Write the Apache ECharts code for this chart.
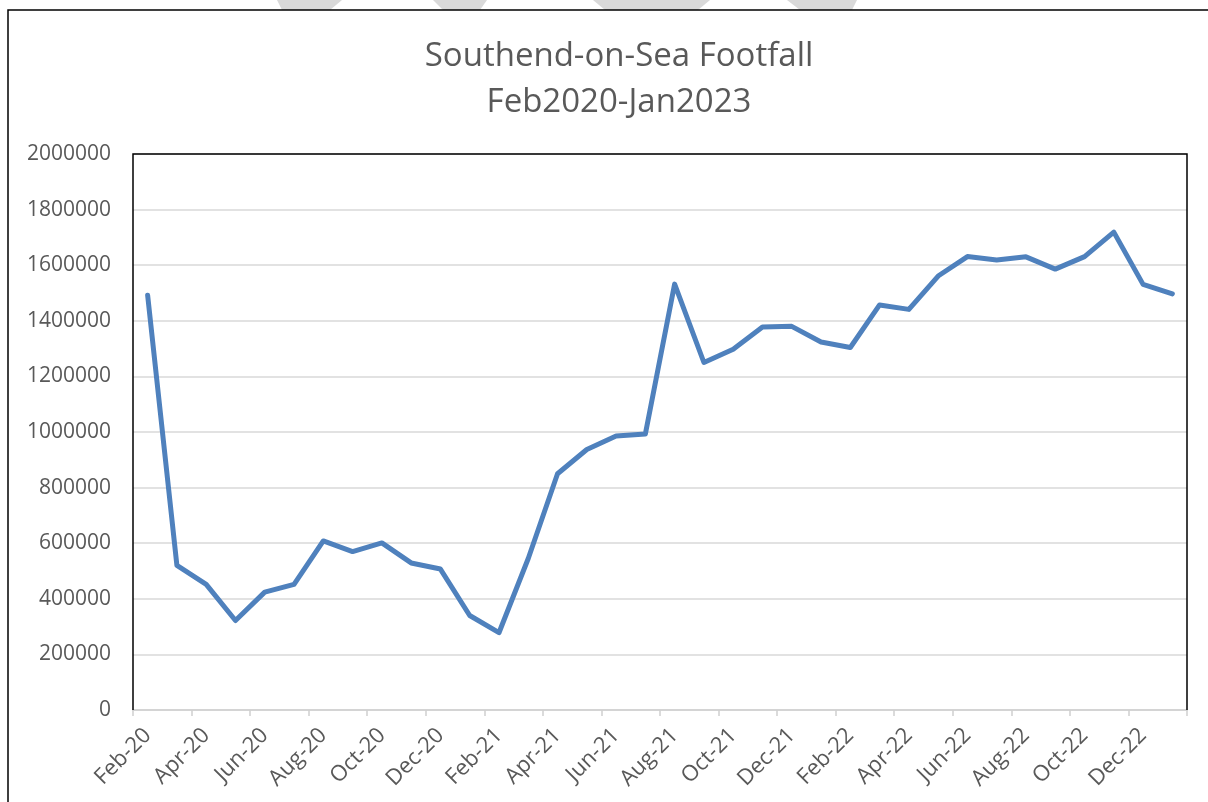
<!DOCTYPE html>
<html>
<head>
<meta charset="utf-8">
<script src="https://cdn.jsdelivr.net/npm/echarts@6/dist/echarts.min.js"></script>
<style>
html,body{margin:0;padding:0;background:#fff;}
#chart{width:1208px;height:802px;}
</style>
</head>
<body>
<div id="chart"></div>
<script>
const titleLines = ['Southend-on-Sea Footfall', 'Feb2020-Jan2023'];
const months = ['Feb-20','Mar-20','Apr-20','May-20','Jun-20','Jul-20','Aug-20','Sep-20','Oct-20','Nov-20','Dec-20','Jan-21',
  'Feb-21','Mar-21','Apr-21','May-21','Jun-21','Jul-21','Aug-21','Sep-21','Oct-21','Nov-21','Dec-21','Jan-22',
  'Feb-22','Mar-22','Apr-22','May-22','Jun-22','Jul-22','Aug-22','Sep-22','Oct-22','Nov-22','Dec-22','Jan-23'];
const footfall = [1492000, 520000, 452000, 322000, 424000, 452000, 608000, 570000, 601000, 529000, 507000, 340000,
  278000, 545000, 850000, 937000, 986000, 993000, 1532000, 1250000, 1298000, 1378000, 1380000, 1324000,
  1304000, 1457000, 1441000, 1561000, 1631000, 1619000, 1630000, 1586000, 1631000, 1719000, 1531000, 1497000];
const yMin = 0, yMax = 2000000, yStep = 200000;

const G = {left: 133, right: 21, top: 154, bottom: 92};
const W = 1208, H = 802;
const chart = echarts.init(document.getElementById('chart'));
const font = 'Open Sans';
const wm = {fill: '#d9d9d9'};
chart.setOption({
  backgroundColor: '#fff',
  animation: false,
  title: {
    text: titleLines.join('\n'),
    left: 614,
    textAlign: 'center',
    top: 29,
    textStyle: {fontFamily: font, fontSize: 33, fontWeight: 'normal', color: '#595959', lineHeight: 46}
  },
  graphic: [
    {type: 'polygon', shape: {points: [[277,0],[342,0],[330,10],[282,10]]}, style: wm, silent: true},
    {type: 'polygon', shape: {points: [[433,0],[487,0],[480,10],[443,10]]}, style: wm, silent: true},
    {type: 'polygon', shape: {points: [[593,0],[710,0],[698,10],[605,10]]}, style: wm, silent: true},
    {type: 'polygon', shape: {points: [[787,0],[857,0],[852,10],[800,10]]}, style: wm, silent: true},
    {type: 'polyline', shape: {points: [[8,900],[8,10],[1300,10]]}, style: {fill: null, stroke: '#000', lineWidth: 1.5}, silent: true},
    {type: 'polyline', z: 100, shape: {points: [[G.left, H - G.bottom],[G.left, G.top],[W - G.right, G.top],[W - G.right, H - G.bottom]]},
      style: {fill: null, stroke: '#000', lineWidth: 1.5}, silent: true}
  ],
  grid: {left: G.left, right: G.right, top: G.top, bottom: G.bottom, show: false},
  xAxis: {
    type: 'category',
    data: months,
    boundaryGap: true,
    axisLine: {show: true, lineStyle: {color: '#d0d0d0', width: 1.5}},
    axisTick: {show: true, interval: 1, length: 6, lineStyle: {color: '#d0d0d0', width: 1.5}},
    axisLabel: {interval: 1, rotate: 45, margin: 22, fontFamily: font, fontSize: 22, color: '#595959'},
    splitLine: {show: false}
  },
  yAxis: {
    type: 'value',
    min: yMin, max: yMax, interval: yStep,
    axisLine: {show: false},
    axisTick: {show: false},
    axisLabel: {margin: 22, fontFamily: font, fontSize: 21, color: '#595959', formatter: v => String(v)},
    splitLine: {show: true, lineStyle: {color: '#d9d9d9', width: 1.5}}
  },
  series: [{
    type: 'line',
    data: footfall,
    symbol: 'none',
    lineStyle: {color: '#4f81bd', width: 5, cap: 'round', join: 'round'},
    itemStyle: {color: '#4f81bd'}
  }]
});
</script>
</body>
</html>
